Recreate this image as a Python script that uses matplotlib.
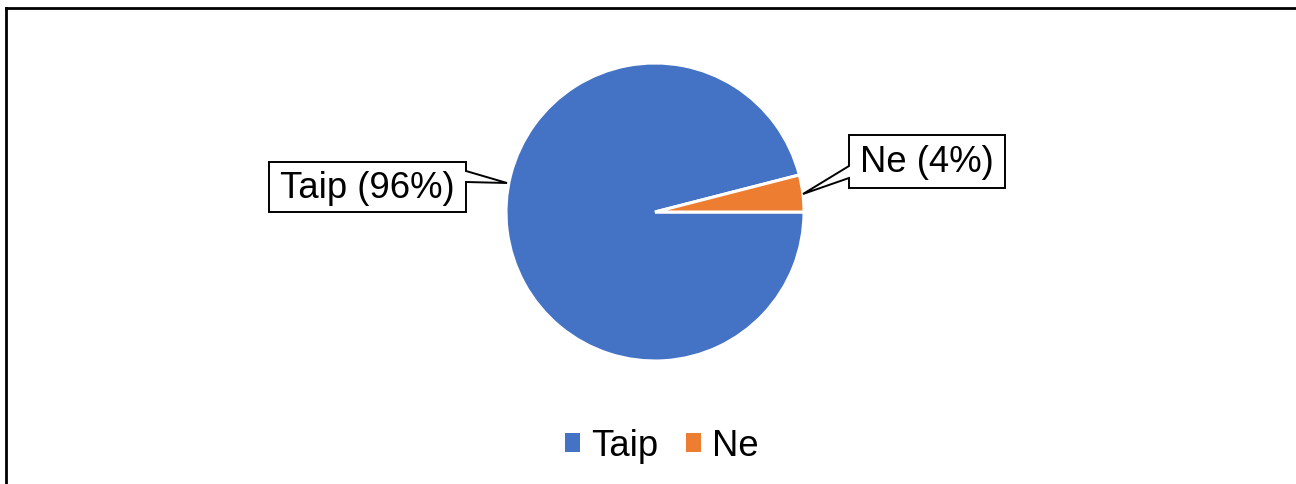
import matplotlib
matplotlib.use("Agg")
import matplotlib.pyplot as plt
from matplotlib.patches import Polygon, Patch
from matplotlib.lines import Line2D

categories = ["Taip", "Ne"]
values = [96, 4]
colors = ["#4472C4", "#ED7D31"]

W, H = 1296, 485
DPI = 100
CX, CY, R = 655, 213, 149  # pie centre / radius in pixels (layout)

plt.rcParams['font.family'] = ['Liberation Sans', 'DejaVu Sans']

fig = plt.figure(figsize=(W / DPI, H / DPI), dpi=DPI)
ax = fig.add_axes([0, 0, 1, 1])

def px(x, y):
    return ((x - CX) / R, (CY - y) / R)

ax.pie(values, colors=colors, startangle=0, counterclock=False, radius=1,
       wedgeprops=dict(edgecolor='white', linewidth=2.2))
ax.set_aspect('auto')
ax.set_xlim(-CX / R, (W - CX) / R)
ax.set_ylim(-(H - CY) / R, CY / R)
ax.axis('off')

total = sum(values)
labels = [f"{c} ({round(v / total * 100)}%)" for c, v in zip(categories, values)]

FS = 26.3
# callout shapes (layout, in pixels)
taip_poly = [(269, 163), (466, 163), (466, 172), (507, 184), (466, 183), (466, 213), (269, 213)]
ne_poly = [(849, 136), (1005, 136), (1005, 189), (849, 189), (849, 179), (803, 195), (849, 167)]
for poly, lab, tx, ty in [(taip_poly, labels[0], 367.5, 188.5), (ne_poly, labels[1], 927, 163)]:
    ax.add_patch(Polygon([px(x, y) for x, y in poly], closed=True, facecolor='white',
                         edgecolor='black', linewidth=1.4, zorder=5))
    ax.text(*px(tx, ty), lab, ha='center', va='center', fontsize=FS, color='black', zorder=6)

handles = [Patch(facecolor=c, edgecolor='none') for c in colors]
fig.legend(handles, categories, loc='center', bbox_to_anchor=(662 / W, 1 - 447 / H),
           ncol=2, frameon=False, fontsize=FS, handlelength=0.42, handleheight=0.42,
           handletextpad=0.3, columnspacing=0.75, borderpad=0, borderaxespad=0)

# chart border (top and left visible)
fig.add_artist(Line2D([6 / W, 1], [1 - 8.7 / H, 1 - 8.7 / H], color='black', linewidth=2.0,
                      transform=fig.transFigure))
fig.add_artist(Line2D([6 / W, 6 / W], [0, 1 - 8.7 / H], color='black', linewidth=2.0,
                      transform=fig.transFigure))

fig.savefig("out.png", dpi=DPI, facecolor='white')
